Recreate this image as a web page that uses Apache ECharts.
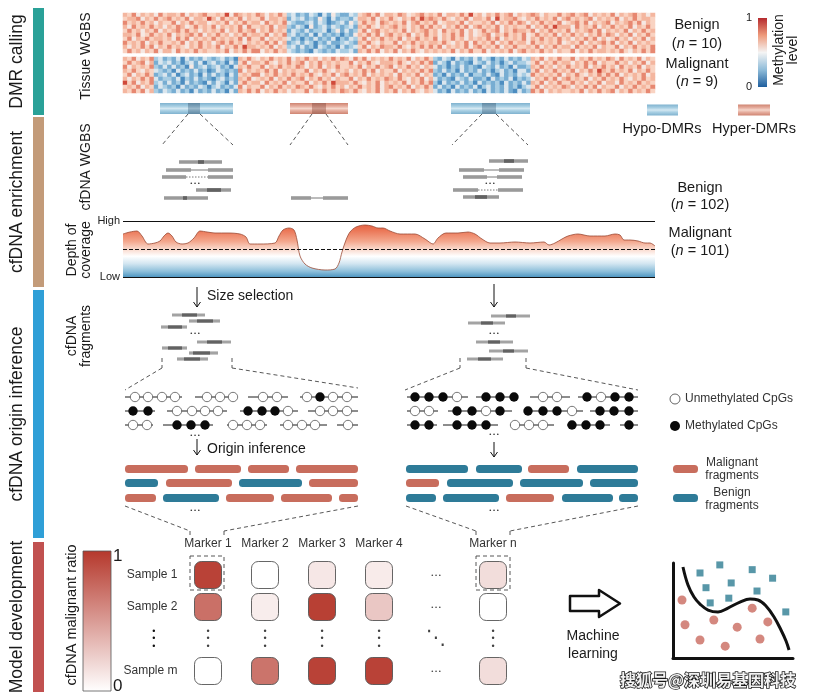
<!DOCTYPE html>
<html><head><meta charset="utf-8">
<script src="https://cdn.jsdelivr.net/npm/echarts@6/dist/echarts.min.js"></script>
<style>html,body{margin:0;padding:0;background:#fff}#c{width:814px;height:697px}</style>
</head><body><div id="c"></div>
<script>
// ================= DATA =================
const sectionLabels = ['DMR calling', 'cfDNA enrichment', 'cfDNA origin inference', 'Model development'];
const sectionColors = ['#2aa198', '#c39b79', '#2f9fd7', '#c15150'];

// Tissue WGBS methylation (digit d -> level d/9), one string per sample, 120 genomic bins
const heatBenign = [
 "7685767586 7768576786 6769587676 8757686342 3243142532 2436786857 7687567867 6857768696 7576867857 6787576686 7867857676 8576786757",
 "6778576867 8676857769 7586768576 6857767243 4232531423 3247768576 8657686978 7686576857 7685967786 5768676857 8676785767 6857686776",
 "8676867576 6857686775 6768576867 7586768432 2342431234 2536867587 6768578676 8567768576 6768576868 7576867685 6786857678 5767868576",
 "7586768675 7687568676 8576768586 6768577324 3152342432 3427686576 7867576868 6757686857 8676857676 6857686977 7586768576 8676857686",
 "6867576857 6786867576 7685768678 5768676243 2423341352 4236857867 6768576786 7586768575 6867857687 7685768676 8576786857 6768576867",
 "7768568676 8576786857 6867576867 7685768342 3241423231 3257686857 8676857686 7576868575 6785768676 8568676857 6867576868 7576857686",
 "6857686776 7586857676 8676768586 6857676423 1324232413 2436857686 7685768676 8576867576 7686857676 8576867686 7576868575 6867576857",
 "8676857686 6768576867 5786867576 7686857234 2431324223 4327686576 6857686767 7686576858 6768576867 7586767685 6768576786 8576857676",
 "7576868576 8676576867 6857686977 6768576342 4231432314 2346857687 7686576868 6857676857 8676857686 6768576867 7586768576 6857686768",
 "6867576857 7586768676 6768576868 8576867432 3214323243 3427686857 6857686576 7676857686 6857676857 8676867576 6857686776 7686576868"
];
const heatMalignant = [
 "7685768342 3241423243 2342317686 5768676857 6867576868 7586857676 8676857686 3243142324 2431324232 4376857686 6857686768 7586768576",
 "6867857243 4231342413 4231426857 7686576867 8576867676 6857686577 7686576868 2431423214 3242313423 3468576867 7576868576 6867576857",
 "8576768324 2423152342 3423147686 6857686768 7576857686 6768576867 8576867576 4231324232 1432423142 2376867576 8676857686 7586768576",
 "7686576432 3142324231 2432328576 7686857676 6857686576 7576868576 6857676868 3242314232 4231342314 4268576867 6857686976 8676857686",
 "6857686234 2413423142 4231426768 8576867686 7686576857 8676857676 7586768576 2314232413 3242142324 3486767685 7686576868 6857676857",
 "7576868423 3241324232 1342327685 6768576867 8576867576 6857686768 7686576857 4232143242 2314232413 2357686857 8676857686 7686576867",
 "9685768342 4231423214 2431426867 7586768576 6857686977 7686576857 6768576868 3142324231 4232314232 4276857686 6867576857 7586768676",
 "6768576243 2314232431 3423248576 6857686768 7686576867 5768676857 8676857686 2423142324 1342324231 3468576768 7576868576 6857686768",
 "7686857324 3242314232 4231427686 8576867576 6857686768 7686576857 6857686576 4231423242 3142324214 2386857676 6768576867 8576867686"
];

// DMRs (genome units on the figure scale)
const dmrType = ['hypo', 'hyper', 'hypo', 'hypo', 'hyper'];
const dmrStart = [160, 290, 451, 647, 738];
const dmrEnd = [233, 348, 530, 678, 770];
const dmrCoreStart = [188, 312, 482, null, null];
const dmrCoreEnd = [200, 326, 496, null, null];
const dmrRow = [108.5, 108.5, 108.5, 110, 110];

// cfDNA WGBS reads: [row, start, end, kind] kind 0 read, 1 CpG-dense part, 2 gap, 3 dotted gap
const cfWgbsReads = [
 [162,179,222,0],[162,198,204,1],
 [170,191,208,2],[170,166,191,0],[170,208,233,0],
 [177,186,208,3],[177,162,186,0],[177,208,233,0],
 [190,196,231,0],[190,207,221,1],
 [198,164,208,0],[198,183,187,1],
 [198,311,323,2],[198,291,311,0],[198,323,348,0],
 [161,489,528,0],[161,504,514,1],
 [170,484,499,2],[170,459,484,0],[170,499,524,0],
 [177,487,497,2],[177,463,487,0],[177,497,522,0],
 [190,478,498,3],[190,453,478,0],[190,498,523,0],
 [197,463,499,0],[197,475,487,1]
];
// size-selected fragments
const selectedReads = [
 [315,172,205,0],[315,182,197,1],
 [321,189,220,0],[321,197,213,1],
 [327,161,187,0],[327,168,182,1],
 [342,197,231,0],[342,207,222,1],
 [348,162,187,0],[348,168,182,1],
 [353,189,218,0],[353,193,210,1],
 [359,177,208,0],[359,184,200,1],
 [316,491,530,0],[316,506,516,1],
 [323,468,505,0],[323,481,493,1],
 [342,476,513,0],[342,488,500,1],
 [351,489,528,0],[351,503,514,1],
 [359,467,503,0],[359,478,491,1]
];

// CpG reads: [row, from, to, CpG sites, methylation pattern]
const cpgReads = [
 [397,125,182,[135,148,162,175],'0000'],
 [397,195,236,[207,220,233],'000'],
 [397,248,288,[263,277],'00'],
 [397,300,358,[307,320,333,347],'0100'],
 [411,125,155,[133,148],'11'],
 [411,167,227,[177,192,205,218],'0000'],
 [411,240,298,[248,262,275,288],'1110'],
 [411,308,358,[320,333,347],'000'],
 [425,125,153,[133,147],'00'],
 [425,163,213,[177,191,205],'111'],
 [425,227,267,[233,247,260],'000'],
 [425,280,327,[288,302,315],'000'],
 [425,337,358,[348],'0'],
 [397,407,468,[415,429,443,457],'1110'],
 [397,476,514,[486,500,514],'111'],
 [397,530,570,[543,557],'00'],
 [397,578,638,[587,601,615,629],'1011'],
 [411,407,438,[415,429],'00'],
 [411,448,512,[457,472,486,500],'1101'],
 [411,524,583,[528,543,557,572],'1110'],
 [411,590,638,[600,614,629],'111'],
 [425,407,437,[415,429],'11'],
 [425,443,498,[457,472,486],'111'],
 [425,510,554,[515,529,543],'000'],
 [425,567,610,[572,586,600],'111'],
 [425,620,638,[629],'1']
];

// inferred fragment origins: [row, from, to, origin]
const originFragments = [
 [469,125,188,'M'],[469,195,241,'M'],[469,248,289,'M'],[469,296,358,'M'],
 [483,125,158,'B'],[483,166,232,'M'],[483,239,302,'B'],[483,309,358,'M'],
 [498,125,156,'M'],[498,163,219,'B'],[498,226,274,'M'],[498,281,332,'M'],[498,339,358,'M'],
 [469,406,468,'B'],[469,476,522,'B'],[469,528,569,'M'],[469,577,638,'B'],
 [483,406,439,'M'],[483,447,513,'B'],[483,520,583,'B'],[483,590,638,'B'],
 [498,406,436,'B'],[498,443,499,'B'],[498,506,554,'M'],[498,562,613,'B'],[498,619,638,'B'],
 [469,673,698,'M'],[498,673,698,'B']
];

// depth of coverage
const coveragePos = [0,7,14,19,25,32,37,41,45,49,53,59,65,71,77,84,92,105,117,123,127,137,152,156,160,166,171,174,177,182,189,202,212,216,219,223,227,233,242,249,255,260,267,277,292,302,310,315,323,335,345,352,359,367,377,392,407,421,426,432,439,445,455,467,482,492,497,501,507,515,522,527,532];
const coverageDepth = [43,45,46,41,33,34,36,41,44,41,35,33,34,39,46,45,44,44,43,40,33,33,34,41,47,49,47,37,21,13,9,7,8,14,25,37,45,50,52,51,49,49,46,43,43,38,33,39,44,44,45,43,38,34,34,35,34,35,32,34,38,41,43,41,41,43,42,37,37,36,34,34,31];
const coverageCutoff = 28;

// model development matrix
const markers = ['Marker 1', 'Marker 2', 'Marker 3', 'Marker 4', '\u2026', 'Marker n'];
const samples = ['Sample 1', 'Sample 2', '\u22ee', 'Sample m'];
const ratioSample1 = [0.95, 0.0, 0.12, 0.10, null, 0.17];
const ratioSample2 = [0.72, 0.09, 0.96, 0.28, null, 0.0];
const ratioSampleM = [0.0, 0.70, 0.95, 0.95, null, 0.17];

// machine-learning toy plot
const mlBenign = [[2.25,8.95],[3.9,9.8],[6.6,9.3],[8.3,8.4],[2.75,7.4],[4.85,7.9],[7.0,7.05],[3.1,5.8],[4.65,6.3],[9.4,4.85]];
const mlMalignant = [[0.75,6.1],[1.0,3.5],[3.4,4.0],[5.35,3.25],[6.6,5.25],[7.9,3.8],[2.25,1.9],[4.35,1.25],[7.25,2.0]];
const mlBoundary = [[0.83,9.58],[1.25,7.68],[1.75,6.42],[2.25,5.68],[2.92,5.05],[3.75,4.84],[4.58,5.26],[5.58,5.89],[6.42,6.21],[7.08,6.11],[7.75,5.47],[8.42,4.32],[9.0,2.95],[9.42,1.79],[9.67,0.84]];

// ================= BUILD =================
const FONT = '"Liberation Sans", Arial, Helvetica, sans-serif';
const RED_M = '#c86d5d', BLUE_B = '#2e7b98';

const heatData = [];
heatBenign.forEach((s, r) => { s.replace(/\s/g, '').split('').forEach((d, c) => heatData.push([c, r, (+d) / 9])); });
heatMalignant.forEach((s, r) => { s.replace(/\s/g, '').split('').forEach((d, c) => heatData.push([c, r + 11, (+d) / 9])); });
const heatCols = heatBenign[0].replace(/\s/g, '').length;

const matrixData = [];
[ratioSample1, ratioSample2, null, ratioSampleM].forEach((row, si) => {
  if (!row) return;
  row.forEach((v, mi) => { if (v !== null) matrixData.push([mi, si, v]); });
});
const dotsData = [];
[0, 1, 3].forEach(si => dotsData.push({ value: [4, si], label: { formatter: '\u2022 \u2022 \u2022', fontSize: 6 } }));
[0, 1, 2, 3, 5].forEach(mi => dotsData.push({ value: [mi, 2], label: { formatter: '{d|\u2022}\n{d|\u2022}\n{d|\u2022}', rich: { d: { fontSize: 9, lineHeight: 7.5, color: '#111' } } } }));
dotsData.push({ value: [4, 2], label: { formatter: '\u22f1', fontSize: 20, fontFamily: 'DejaVu Sans' } });

// ---------- graphic decorations ----------
const G = [];
function txt(x, y, text, o) {
  o = o || {};
  G.push({ type: 'text', x, y, rotation: o.rot || 0, silent: true, z: 10,
    style: Object.assign({ text, fill: '#1a1a1a', fontSize: 14.5, fontFamily: FONT,
      align: 'center', verticalAlign: 'middle' }, o.style || {}) });
}
function dline(x1, y1, x2, y2) {
  G.push({ type: 'line', silent: true, shape: { x1, y1, x2, y2 },
    style: { stroke: '#444', lineWidth: 0.9, lineDash: [4, 3] } });
}
function arrow(x, y1, y2) {
  G.push({ type: 'line', silent: true, shape: { x1: x, y1, x2: x, y2 }, style: { stroke: '#111', lineWidth: 1 } });
  G.push({ type: 'polyline', silent: true, shape: { points: [[x - 3.5, y2 - 5], [x, y2], [x + 3.5, y2 - 5]] }, style: { stroke: '#111', lineWidth: 1, fill: null } });
}
function dots(x, y) { txt(x, y, '\u2022 \u2022 \u2022', { style: { fontSize: 6, fill: '#333' } }); }

const bars = [[8, 107], [117, 170], [290, 248], [542, 150]];
bars.forEach((b, i) => {
  G.push({ type: 'rect', silent: true, shape: { x: 33, y: b[0], width: 11, height: b[1] }, style: { fill: sectionColors[i] } });
  txt(17, b[0] + b[1] / 2, sectionLabels[i], { rot: Math.PI / 2, style: { fontSize: 17.5 } });
});
txt(86, 56, 'Tissue WGBS', { rot: Math.PI / 2, style: { fontSize: 14 } });
txt(86, 167, 'cfDNA WGBS', { rot: Math.PI / 2, style: { fontSize: 14 } });
txt(79, 250, 'Depth of\ncoverage', { rot: Math.PI / 2, style: { fontSize: 14, lineHeight: 14 } });
txt(79, 336, 'cfDNA\nfragments', { rot: Math.PI / 2, style: { fontSize: 14, lineHeight: 14 } });
txt(72, 615, 'cfDNA malignant ratio', { rot: Math.PI / 2, style: { fontSize: 14.5 } });

const nRich = { i: { fontStyle: 'italic', fontSize: 14.5, fontFamily: FONT, fill: '#1a1a1a' }, r: { fontSize: 14.5, fontFamily: FONT, fill: '#1a1a1a' } };
txt(697, 25, 'Benign');
txt(697, 44, '{r|(}{i|n}{r| = 10)}', { style: { rich: nRich } });
txt(697, 64, 'Malignant');
txt(697, 82, '{r|(}{i|n}{r| = 9)}', { style: { rich: nRich } });
txt(700, 188, 'Benign');
txt(700, 205, '{r|(}{i|n}{r| = 102)}', { style: { rich: nRich } });
txt(700, 233, 'Malignant');
txt(700, 251, '{r|(}{i|n}{r| = 101)}', { style: { rich: nRich } });

// methylation colour bar
G.push({ type: 'rect', silent: true, shape: { x: 758, y: 18, width: 9, height: 69 },
  style: { fill: { type: 'linear', x: 0, y: 0, x2: 0, y2: 1, colorStops: [
    { offset: 0, color: '#b52a2e' }, { offset: 0.25, color: '#ee9a7b' }, { offset: 0.5, color: '#f4f4f4' },
    { offset: 0.75, color: '#8fbcd9' }, { offset: 1, color: '#1f5f9e' }] } } });
txt(749, 18, '1', { style: { fontSize: 11 } });
txt(749, 87, '0', { style: { fontSize: 11 } });
txt(786, 50, 'Methylation\nlevel', { rot: Math.PI / 2, style: { fontSize: 14, lineHeight: 14 } });

txt(662, 129, 'Hypo-DMRs');
txt(754, 129, 'Hyper-DMRs');

// dashed guides
[[188,114,162,145],[200,114,233,145],[312,114,290,145],[326,114,348,145],[482,114,452,145],[496,114,528,145],
 [162,358,162,368],[232,358,232,368],[162,368,125,390],[232,368,358,388],
 [460,358,460,368],[526,358,526,368],[460,368,405,390],[526,368,638,390],
 [125,506,190,531],[358,506,224,531],[190,531,190,536],[224,531,224,536],
 [406,506,476,531],[638,506,510,531],[476,531,476,536],[510,531,510,536]].forEach(l => dline(...l));
G.push({ type: 'rect', silent: true, shape: { x: 190, y: 556, width: 34, height: 34 }, style: { stroke: '#444', lineWidth: 0.9, lineDash: [4, 3], fill: null } });
G.push({ type: 'rect', silent: true, shape: { x: 476, y: 556, width: 34, height: 34 }, style: { stroke: '#444', lineWidth: 0.9, lineDash: [4, 3], fill: null } });

dots(195, 183); dots(490, 183); dots(195, 333); dots(494, 333);
dots(195, 435); dots(494, 434); dots(195, 510); dots(494, 510);
arrow(197, 287, 307); arrow(494, 284, 307); arrow(197, 439, 455); arrow(494, 442, 457);
txt(207, 296, 'Size selection', { style: { align: 'left', fontSize: 14 } });
txt(207, 449, 'Origin inference', { style: { align: 'left', fontSize: 14 } });

// CpG legend
G.push({ type: 'circle', silent: true, shape: { cx: 675, cy: 399, r: 5 }, style: { fill: '#fff', stroke: '#555', lineWidth: 0.9 } });
G.push({ type: 'circle', silent: true, shape: { cx: 675, cy: 426, r: 5 }, style: { fill: '#0a0a0a' } });
txt(685, 399, 'Unmethylated CpGs', { style: { align: 'left', fontSize: 12, fill: '#333' } });
txt(685, 426, 'Methylated CpGs', { style: { align: 'left', fontSize: 12, fill: '#333' } });
txt(732, 469, 'Malignant\nfragments', { style: { fontSize: 12, lineHeight: 13, fill: '#333' } });
txt(732, 499, 'Benign\nfragments', { style: { fontSize: 12, lineHeight: 13, fill: '#333' } });

// ratio colour bar
G.push({ type: 'rect', silent: true, shape: { x: 83, y: 551, width: 28, height: 140 },
  style: { stroke: '#555', lineWidth: 0.8, fill: { type: 'linear', x: 0, y: 0, x2: 0, y2: 1,
    colorStops: [{ offset: 0, color: '#b5382c' }, { offset: 1, color: '#ffffff' }] } } });
txt(113, 556, '1', { style: { align: 'left', fontSize: 17 } });
txt(113, 686, '0', { style: { align: 'left', fontSize: 17 } });

// ML arrow
G.push({ type: 'polygon', silent: true, shape: { points: [[570,596],[599,596],[599,590],[620,603.5],[599,617],[599,611],[570,611]] },
  style: { fill: '#fff', stroke: '#111', lineWidth: 2.5, lineJoin: 'round' } });
txt(593, 636, 'Machine', { style: { fontSize: 14 } });
txt(593, 654, 'learning', { style: { fontSize: 14 } });

// watermark
txt(708, 680, '搜狐号@深圳易基因科技', { style: { fontSize: 16, fontWeight: 'bold', fontFamily: '"Noto Sans CJK SC"',
  fill: '#f2f2f2', stroke: '#1a1a1a', lineWidth: 1.6 } });

// ---------- custom renderers ----------
function renderDMR(params, api) {
  const i = params.dataIndex;
  const y = dmrRow[i];
  const a = api.coord([dmrStart[i], y]), b = api.coord([dmrEnd[i], y]);
  const hypo = dmrType[i] === 'hypo';
  const h = 11;
  const grad = (c1, c2, c3) => ({ type: 'linear', x: 0, y: 0, x2: 0, y2: 1, colorStops: [
    { offset: 0, color: c1 }, { offset: 0.3, color: c2 }, { offset: 0.5, color: c3 }, { offset: 0.7, color: c2 }, { offset: 1, color: c1 }] });
  const children = [{ type: 'rect', shape: { x: a[0], y: a[1] - h / 2, width: b[0] - a[0], height: h },
    style: { fill: hypo ? grad('#7fb2cf', '#a8cfe3', '#d4e8f2') : grad('#cf8471', '#e6ae9f', '#f5d6cb') } }];
  if (dmrCoreStart[i] !== null) {
    const c1 = api.coord([dmrCoreStart[i], y]), c2 = api.coord([dmrCoreEnd[i], y]);
    children.push({ type: 'rect', shape: { x: c1[0], y: c1[1] - h / 2, width: c2[0] - c1[0], height: h },
      style: { fill: hypo ? grad('#5f89a4', '#7fa3ba', '#9bb9cb') : grad('#aa6a5c', '#bf8374', '#cc9a8d') } });
  }
  return { type: 'group', children };
}
const allReads = cfWgbsReads.concat(selectedReads);
function renderRead(params, api) {
  const d = allReads[params.dataIndex];
  const sel = params.dataIndex >= cfWgbsReads.length;
  const a = api.coord([d[1], d[0]]), b = api.coord([d[2], d[0]]);
  if (d[3] >= 2) return { type: 'line', shape: { x1: a[0], y1: a[1], x2: b[0], y2: b[1] },
    style: { stroke: '#555', lineWidth: 0.8, lineDash: d[3] === 3 ? [1.5, 1.5] : null } };
  const h = sel ? 3.2 : 3.6;
  return { type: 'rect', shape: { x: a[0], y: a[1] - h / 2, width: b[0] - a[0], height: h },
    style: { fill: d[3] === 1 ? '#626262' : (sel ? '#a3a3a3' : '#9a9a9a') } };
}
function renderCpG(params, api) {
  const d = cpgReads[params.dataIndex];
  const a = api.coord([d[1], d[0]]), b = api.coord([d[2], d[0]]);
  const children = [{ type: 'line', shape: { x1: a[0], y1: a[1], x2: b[0], y2: b[1] }, style: { stroke: '#1a1a1a', lineWidth: 1 } }];
  d[3].forEach((s, k) => {
    const p = api.coord([s, d[0]]);
    const m = d[4][k] === '1';
    children.push({ type: 'circle', shape: { cx: p[0], cy: p[1], r: 4.7 },
      style: m ? { fill: '#0a0a0a' } : { fill: '#fff', stroke: '#555', lineWidth: 0.8 } });
  });
  return { type: 'group', children };
}
function renderFragment(params, api) {
  const d = originFragments[params.dataIndex];
  const a = api.coord([d[1], d[0]]), b = api.coord([d[2], d[0]]);
  return { type: 'rect', shape: { x: a[0], y: a[1] - 4, width: b[0] - a[0], height: 8, r: 3.5 },
    style: { fill: d[3] === 'M' ? RED_M : BLUE_B } };
}

const hidden = { show: false };
const option = {
  animation: false,
  backgroundColor: '#ffffff',
  textStyle: { fontFamily: FONT },
  graphic: { elements: G },
  grid: [
    { left: 0, top: 0, width: 814, height: 697 },
    { left: 123, top: 13, width: 532, height: 80 },
    { left: 123, top: 221, width: 532, height: 56 },
    { left: 179.5, top: 559, width: 342, height: 128 },
    { left: 673, top: 563, width: 120, height: 95 }
  ],
  xAxis: [
    { gridIndex: 0, type: 'value', min: 0, max: 814, show: false },
    { gridIndex: 1, type: 'category', data: Array.from({ length: heatCols }, (_, i) => i), show: false },
    { gridIndex: 2, type: 'value', min: 0, max: 532, show: false },
    { gridIndex: 3, type: 'category', data: markers, position: 'top',
      axisLine: hidden, axisTick: hidden,
      axisLabel: { interval: 0, fontSize: 12, color: '#333', margin: 9, formatter: v => v === '\u2026' ? '' : v } },
    { gridIndex: 4, type: 'value', min: 0, max: 10,
      axisLine: { show: true, lineStyle: { color: '#111', width: 3 } }, axisTick: hidden, axisLabel: hidden, splitLine: hidden }
  ],
  yAxis: [
    { gridIndex: 0, type: 'value', min: 0, max: 697, inverse: true, show: false },
    { gridIndex: 1, type: 'category', data: Array.from({ length: 20 }, (_, i) => i), inverse: true, show: false },
    { gridIndex: 2, type: 'value', min: 0, max: 56, interval: 56,
      axisLine: hidden, axisTick: hidden,
      axisLabel: { fontSize: 11, color: '#222', margin: 3, formatter: v => v === 56 ? 'High' : (v === 0 ? 'Low' : '') },
      splitLine: { show: true, lineStyle: { color: '#111', width: 1 } } },
    { gridIndex: 3, type: 'category', data: samples, inverse: true,
      axisLine: hidden, axisTick: hidden,
      axisLabel: { interval: 0, fontSize: 12, color: '#333', margin: 2,
        formatter: v => v === '\u22ee' ? '{d|\u2022}\n{d|\u2022}\n{d|\u2022}' : v,
        rich: { d: { fontSize: 9, lineHeight: 7.5, color: '#111', padding: [0, 22, 0, 0] } } } },
    { gridIndex: 4, type: 'value', min: 0, max: 10,
      axisLine: { show: true, lineStyle: { color: '#111', width: 3 } }, axisTick: hidden, axisLabel: hidden, splitLine: hidden }
  ],
  visualMap: [
    { type: 'continuous', seriesIndex: 0, min: 0, max: 1, dimension: 2, show: false,
      inRange: { color: ['#2a6cab', '#5f9dca', '#a8cde3', '#f3f3f3', '#f9d3c2', '#f2a88d', '#d0493a'] } },
    { type: 'continuous', seriesIndex: 2, min: 0, max: 1, dimension: 2, show: false,
      inRange: { color: ['#ffffff', '#b5382c'] } }
  ],
  series: [
    { type: 'heatmap', xAxisIndex: 1, yAxisIndex: 1, data: heatData, progressive: 0, itemStyle: { borderWidth: 0 } },
    { type: 'line', xAxisIndex: 2, yAxisIndex: 2, smooth: 0.3, symbol: 'none',
      data: coveragePos.map((p, i) => [p, coverageDepth[i]]),
      lineStyle: { color: '#9b4a35', width: 0.8 },
      areaStyle: { opacity: 1, color: { type: 'linear', x: 0, y: 221, x2: 0, y2: 277, global: true, colorStops: [
        { offset: 0, color: '#e0553a' }, { offset: 0.17, color: '#eb7757' }, { offset: 0.36, color: '#f3a68c' },
        { offset: 0.5, color: '#f9d8cb' }, { offset: 0.63, color: '#ffffff' }, { offset: 0.76, color: '#d3e6f1' },
        { offset: 0.9, color: '#8dbfda' }, { offset: 1, color: '#4f97c2' }] } },
      markLine: { silent: true, symbol: ['none', 'none'], label: { show: false },
        lineStyle: { type: 'dashed', color: '#111', width: 1 }, data: [{ yAxis: coverageCutoff }] } },
    { type: 'scatter', xAxisIndex: 3, yAxisIndex: 3, data: matrixData, symbol: 'roundRect', symbolSize: 27,
      itemStyle: { borderColor: '#555', borderWidth: 0.9, opacity: 1 } },
    { type: 'scatter', xAxisIndex: 3, yAxisIndex: 3, data: dotsData, symbolSize: 1,
      itemStyle: { color: 'rgba(0,0,0,0)' },
      label: { show: true, position: 'inside', color: '#111', fontSize: 9 } },
    { type: 'line', xAxisIndex: 4, yAxisIndex: 4, data: mlBoundary, smooth: 0.4, symbol: 'none',
      lineStyle: { color: '#111', width: 3 } },
    { type: 'scatter', xAxisIndex: 4, yAxisIndex: 4, data: mlBenign, symbol: 'rect', symbolSize: 7,
      itemStyle: { color: '#2e7d92' } },
    { type: 'scatter', xAxisIndex: 4, yAxisIndex: 4, data: mlMalignant, symbol: 'circle', symbolSize: 9,
      itemStyle: { color: '#c96a5f' } },
    { type: 'custom', xAxisIndex: 0, yAxisIndex: 0, renderItem: renderDMR, clip: false,
      data: dmrStart.map((s, i) => [s, dmrRow[i]]), encode: { x: 0, y: 1 } },
    { type: 'custom', xAxisIndex: 0, yAxisIndex: 0, renderItem: renderRead, clip: false,
      data: allReads.map(d => [d[1], d[0]]), encode: { x: 0, y: 1 } },
    { type: 'custom', xAxisIndex: 0, yAxisIndex: 0, renderItem: renderCpG, clip: false,
      data: cpgReads.map(d => [d[1], d[0]]), encode: { x: 0, y: 1 } },
    { type: 'custom', xAxisIndex: 0, yAxisIndex: 0, renderItem: renderFragment, clip: false,
      data: originFragments.map(d => [d[1], d[0]]), encode: { x: 0, y: 1 } }
  ]
};
const chart = echarts.init(document.getElementById('c'), null, { renderer: 'canvas' });
chart.setOption(option);
</script>
</body></html>
